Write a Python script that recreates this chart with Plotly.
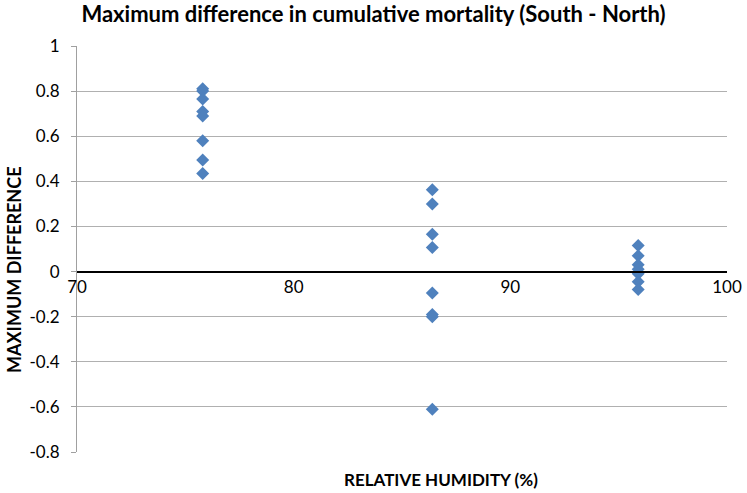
import plotly.graph_objects as go

# Data
humidity_low = [75.8] * 8
diff_low = [0.81, 0.80, 0.765, 0.71, 0.69, 0.58, 0.495, 0.435]
humidity_mid = [86.4] * 8
diff_mid = [0.363, 0.30, 0.165, 0.107, -0.095, -0.19, -0.20, -0.61]
humidity_high = [95.9] * 7
diff_high = [0.115, 0.07, 0.03, 0.01, -0.01, -0.045, -0.08]

x_vals = humidity_low + humidity_mid + humidity_high
y_vals = diff_low + diff_mid + diff_high

y_tickvals = [1, 0.8, 0.6, 0.4, 0.2, 0, -0.2, -0.4, -0.6, -0.8]
y_ticktext = ["1", "0.8", "0.6", "0.4", "0.2", "0", "-0.2", "-0.4", "-0.6", "-0.8"]
x_tickvals = [70, 80, 90, 100]
x_ticktext = ["70", "80", "90", "100"]

FONT = "Lato, 'Open Sans', Arial, sans-serif"
y_min, y_max = -0.8, 1.0
zero_pos = (0 - y_min) / (y_max - y_min)

L, R, T, B = 77, 20, 46, 41
W, H = 747, 493
plot_h = H - T - B
plot_w = W - L - R

fig = go.Figure()
fig.add_trace(go.Scatter(
    x=x_vals, y=y_vals, mode="markers",
    marker=dict(symbol="diamond", size=10, color="#4F81BD", line=dict(width=0)),
    showlegend=False,
))

fig.update_layout(
    width=W, height=H,
    margin=dict(l=L, r=R, t=T, b=B, autoexpand=False),
    paper_bgcolor="white", plot_bgcolor="white",
    font=dict(family=FONT, size=17, color="black"),
    title=dict(text="<b>Maximum difference in cumulative mortality (South - North)</b>",
               x=0.5, xanchor="center", y=1 - 14 / H, yanchor="middle",
               font=dict(family=FONT, size=22, color="black")),
    xaxis=dict(
        range=[70, 100], tickvals=x_tickvals, ticktext=x_ticktext,
        showgrid=False, zeroline=False, automargin=False,
        anchor="free", position=zero_pos,
        showline=True, linecolor="black", linewidth=2,
        ticks="", tickfont=dict(family=FONT, size=17, color="black"),
    ),
    yaxis=dict(
        range=[y_min, y_max], tickvals=y_tickvals, ticktext=y_ticktext,
        showgrid=True, gridcolor="#B0B0B0", gridwidth=1,
        zeroline=False, automargin=False,
        showline=True, linecolor="#A0A0A0", linewidth=1,
        ticks="outside", ticklen=5, tickcolor="#A0A0A0",
        ticklabelstandoff=8,
        tickfont=dict(family=FONT, size=17, color="black"),
    ),
    annotations=[
        dict(
            text="<b>RELATIVE HUMIDITY (%)</b>", xref="paper", yref="paper",
            x=(441 - L) / plot_w, y=-(480 - (H - B)) / plot_h,
            xanchor="center", yanchor="middle", showarrow=False,
            font=dict(family=FONT, size=17, color="black"),
        ),
        dict(
            text="<b>MAXIMUM DIFFERENCE</b>", xref="paper", yref="paper",
            x=-(L - 14) / plot_w, y=(H - B - 270) / plot_h,
            xanchor="center", yanchor="middle", showarrow=False, textangle=-90,
            font=dict(family=FONT, size=18, color="black"),
        ),
    ],
)

fig.write_html("out.html", config={"displayModeBar": False})

# remove default browser body margin so the figure sits at the page origin
with open("out.html", "r", encoding="utf-8") as f:
    html = f.read()
html = html.replace("<head>", "<head><style>html,body{margin:0;padding:0;overflow:hidden;}</style>", 1)
with open("out.html", "w", encoding="utf-8") as f:
    f.write(html)
